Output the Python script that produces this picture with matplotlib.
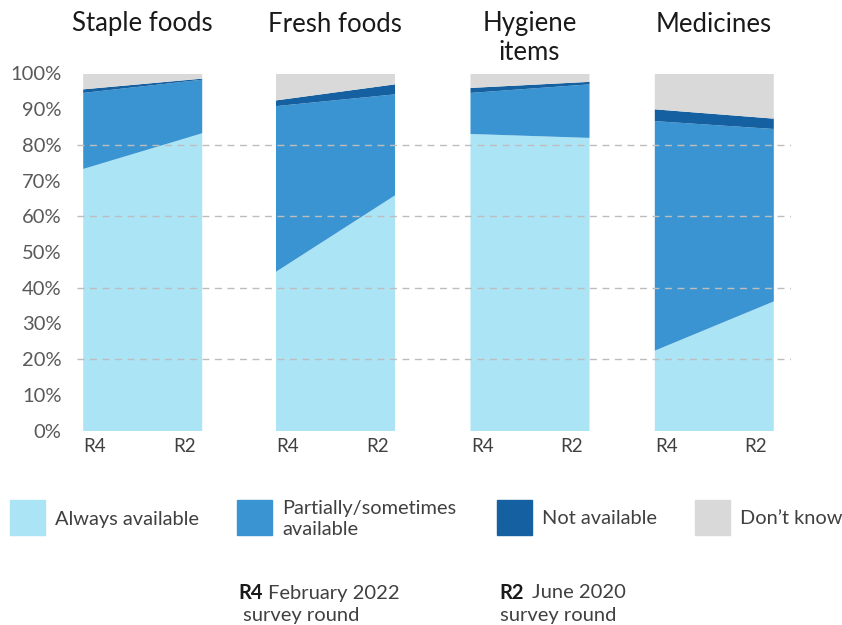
import matplotlib
matplotlib.use("Agg")
import matplotlib.pyplot as plt
from matplotlib.patches import Rectangle

plt.rcParams['font.family'] = ['Lato', 'DejaVu Sans']

# availability shares (%) for each category, R4 round then R2 round
categories = ["Staple foods", "Fresh foods", "Hygiene\nitems", "Medicines"]
rounds = ["R4", "R2"]
always_r4 = [73.4, 44.6, 83.2, 22.5]
always_r2 = [83.4, 66.0, 82.1, 36.3]
partial_r4 = [21.3, 46.4, 11.5, 64.3]
partial_r2 = [15.0, 28.3, 15.0, 48.3]
notavail_r4 = [1.0, 1.6, 1.4, 3.3]
notavail_r2 = [0.3, 2.8, 0.7, 2.9]
dontknow_r4 = [4.3, 7.4, 3.9, 9.9]
dontknow_r2 = [1.3, 2.9, 2.2, 12.5]

series_names = ["Always available", "Partially/sometimes\navailable",
                "Not available", "Don\u2019t know"]
colors = ["#ABE4F5", "#3A94D2", "#1460A0", "#D9D9D9"]

# panel placement in pixel units along the shared x axis
W, H = 842, 625
panel_left = [82.7, 275.5, 470, 654.3]
panel_w = 119

fig = plt.figure(figsize=(W / 100, H / 100), dpi=100)
ax_l, ax_r = 77, 791
ax_top, ax_bot = 73.5, 430.5
ax = fig.add_axes([ax_l / W, 1 - ax_bot / H, (ax_r - ax_l) / W, (ax_bot - ax_top) / H])
ax.set_xlim(ax_l, ax_r)
ax.set_ylim(0, 100)

for i, x0 in enumerate(panel_left):
    xs = [x0, x0 + panel_w]
    layers = [
        (always_r4[i], always_r2[i]),
        (partial_r4[i], partial_r2[i]),
        (notavail_r4[i], notavail_r2[i]),
        (dontknow_r4[i], dontknow_r2[i]),
    ]
    base = [0.0, 0.0]
    for (a, b), c in zip(layers, colors):
        top = [base[0] + a, base[1] + b]
        ax.fill_between(xs, base, top, color=c, lw=0, zorder=1)
        base = top
    ax.text(x0 + panel_w / 2, 100 + 62 / 3.57, categories[i], ha="center", va="top",
            fontsize=18.5, color="#1a1a1a", linespacing=1.2, clip_on=False)
    ax.text(x0 + 1, -2.0, rounds[0], ha="left", va="top", fontsize=13.5, color="#404040")
    ax.text(x0 + panel_w - 6, -2.0, rounds[1], ha="right", va="top", fontsize=13.5, color="#404040")

for g in [20, 40, 60, 80]:
    ax.axhline(g, color="#BDBDBD", lw=1, ls=(0, (5, 4)), zorder=3)

ax.set_yticks(range(0, 101, 10))
ax.set_yticklabels([f"{v}%" for v in range(0, 101, 10)])
ax.tick_params(axis="y", length=0, pad=11, labelsize=14.5, labelcolor="#595959")
ax.set_xticks([])
for s in ax.spines.values():
    s.set_visible(False)

# legend row
leg_x = [10, 237, 497, 695]
for x, name, c in zip(leg_x, series_names, colors):
    fig.add_artist(Rectangle((x / W, 1 - 535 / H), 35 / W, 35 / H, color=c,
                             transform=fig.transFigure))
    fig.text((x + 45) / W, 1 - 519 / H, name, ha="left", va="center",
             fontsize=14.4, color="#404040", linespacing=1.25)

# round key
fig.text(238 / W, 1 - 593 / H, "R4", ha="left", va="center", fontsize=14.5,
         fontweight="bold", color="#1a1a1a")
fig.text(268 / W, 1 - 593 / H, "February 2022", ha="left", va="center",
         fontsize=14.5, color="#404040")
fig.text(243 / W, 1 - 615 / H, "survey round", ha="left", va="center",
         fontsize=14.5, color="#404040")
fig.text(499 / W, 1 - 593 / H, "R2", ha="left", va="center", fontsize=14.5,
         fontweight="bold", color="#1a1a1a")
fig.text(532 / W, 1 - 593 / H, "June 2020", ha="left", va="center",
         fontsize=14.5, color="#404040")
fig.text(500 / W, 1 - 615 / H, "survey round", ha="left", va="center",
         fontsize=14.5, color="#404040")

fig.savefig("out.png", dpi=100)
